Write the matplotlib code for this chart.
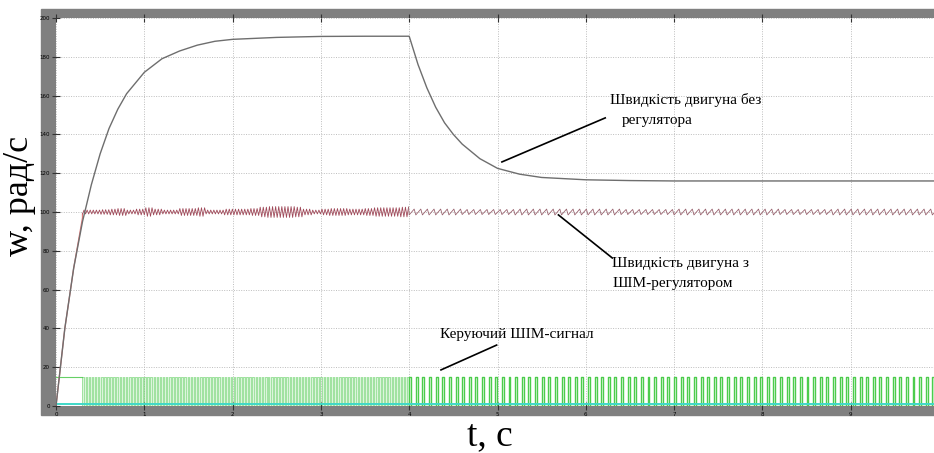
import numpy as np
import matplotlib.pyplot as plt
from matplotlib.patches import Rectangle

# ---- readings from the picture ----
# motor speed without regulator (grey curve)
t_free = [0, 0.1, 0.2, 0.3, 0.4, 0.5, 0.6, 0.7, 0.8, 1.0, 1.2, 1.4, 1.6, 1.8, 2.0,
          2.5, 3.0, 3.5, 4.0, 4.1, 4.2, 4.3, 4.4, 4.5, 4.6, 4.8, 5.0, 5.25, 5.5,
          6.0, 6.5, 7.0, 10.0]
w_free = [0, 40, 71, 95, 114, 130, 143, 153, 161, 172, 179, 183, 186, 188, 189,
          190, 190.5, 190.6, 190.6, 176, 164, 154, 146, 140, 135, 127.5, 122.5,
          119.5, 117.8, 116.6, 116.2, 116, 116]

# motor speed with PWM regulator (red curve): start-up, then ripple around 100
t_rise = [0, 0.1, 0.2, 0.3]
w_rise = [0, 40, 71, 97]
w_set = 100
ripple1_amp = [1.0, 1.0, 1.2, 1.5, 1.8, 1.0, 1.5, 2.2, 1.5, 1.0, 1.0, 1.8, 1.8,
               2.2, 1.0, 1.0, 1.5, 1.5, 1.5, 1.8, 2.5, 2.8, 2.8, 2.8, 2.5, 1.5,
               1.0, 1.5, 1.8, 1.8, 1.5, 1.5, 1.8, 2.2, 2.2, 2.2, 2.5]  # every 0.1 s from 0.3 s
ripple1_period = 0.035
ripple2_amp = [1.5, 1.3, 1.5, 1.5, 1.3, 1.5, 1.5, 1.3, 1.5, 1.5]   # every 0.6 s from 4 s
ripple2_period = 0.075

# PWM control signal (green)
pwm_high = 15
pwm1_duty = [0.55, 0.5, 0.5, 0.45, 0.5, 0.55, 0.5, 0.45, 0.5, 0.5, 0.45, 0.5,
             0.5, 0.55, 0.5, 0.45, 0.5, 0.5, 0.45, 0.5, 0.55, 0.5, 0.5, 0.55,
             0.5, 0.45, 0.5, 0.5, 0.45, 0.5, 0.5, 0.5, 0.45, 0.5, 0.55, 0.5, 0.5]
pwm2_duty = [0.3, 0.28, 0.3, 0.3, 0.28, 0.3, 0.3, 0.28, 0.3, 0.3]

x_ticks = list(range(0, 10))
y_ticks = list(range(0, 201, 20))


def ripple(t0, bin_w, amps, period, saw=False):
    ts, ws = [], []
    t = t0
    t_end = t0 + bin_w * len(amps)
    sign = -1
    while t < t_end:
        a = amps[min(int((t - t0) / bin_w), len(amps) - 1)]
        if saw:
            ts += [t, t + 0.75 * period]
            ws += [w_set - a, w_set + a]
            t += period
        else:
            ts.append(t)
            ws.append(w_set + sign * a)
            sign = -sign
            t += period / 2
    return ts, ws


def pulses(t0, bin_w, duties, period):
    ts, vs = [], []
    t = t0
    t_end = t0 + bin_w * len(duties)
    while t < t_end:
        d = duties[min(int((t - t0) / bin_w), len(duties) - 1)]
        ts += [t, t, t + d * period, t + d * period]
        vs += [0, pwm_high, pwm_high, 0]
        t += period
    return ts, vs


W, H = 934, 453
fig = plt.figure(figsize=(W / 100, H / 100), dpi=100)
fig.patch.set_facecolor('white')

# grey scope frame
fig.add_artist(Rectangle((41 / W, 1 - 415 / H), 1 - 41 / W, (415 - 9) / H,
                         transform=fig.transFigure, color='#808080', zorder=0))

ax = fig.add_axes([56 / W, 1 - 406 / H, 1 - 56 / W, (406 - 18) / H])
ax.set_facecolor('white')

# PWM signal
tp0, vp0 = [0, 0.3], [pwm_high, pwm_high]
tp1, vp1 = pulses(0.3, 0.1, pwm1_duty, ripple1_period)
tp2, vp2 = pulses(4.0, 0.6, pwm2_duty, ripple2_period)
ax.fill_between([0.3, 4.0], 0, pwm_high, color='#dcf5dc', lw=0)
ax.plot(tp0, vp0, color='#66d066', lw=0.8)
ax.plot(tp1, vp1, color='#4fc94f', lw=0.4, alpha=0.75)
ax.plot(tp2, vp2, color='#4ccc4c', lw=1.0)
ax.axhline(0.8, color='#3fd8c8', lw=1.4)

# speed with regulator
tr1, wr1 = ripple(0.3, 0.1, ripple1_amp, ripple1_period)
tr2, wr2 = ripple(4.0, 0.6, ripple2_amp, ripple2_period, saw=True)
ax.plot(t_rise + tr1[:1], w_rise + wr1[:1], color='#e07a7a', lw=0.9)
ax.plot(tr1, wr1, color='#a04a5a', lw=0.6)
ax.plot(tr1[-1:] + tr2, wr1[-1:] + wr2, color='#9a6470', lw=0.6)

# speed without regulator
ax.plot(t_free, w_free, color='#6e6e6e', lw=1.0)

ax.set_xlim(0, (934 - 56) / 88.3)
ax.set_ylim(0, 200)
ax.set_xticks(x_ticks)
ax.set_yticks(y_ticks)
ax.tick_params(axis='both', labelsize=4, direction='inout', length=6,
               width=0.8, color='#333333', pad=1.5)
ax.tick_params(axis='x', top=True)
for s in ax.spines.values():
    s.set_visible(False)
ax.grid(True, color='#bdbdbd', lw=0.7, linestyle=(0, (1, 1.5)))

serif = ['Liberation Serif', 'DejaVu Serif']
fig.text(20 / W, 1 - 196 / H, 'w, рад/с', rotation=90, ha='center', va='center',
         family=serif, fontsize=26)
fig.text(490 / W, 1 - 436 / H, 't, с', ha='center', va='center',
         family=serif, fontsize=27)

txt = dict(family=serif, fontsize=11, va='center', ha='left')
ax.text(6.27, 157.7, 'Швидкість двигуна без', **txt)
ax.text(6.41, 147.4, 'регулятора', **txt)
ax.text(6.30, 73.2, 'Швидкість двигуна з', **txt)
ax.text(6.30, 63.4, 'ШІМ-регулятором', **txt)
ax.text(4.35, 37.1, 'Керуючий ШІМ-сигнал', **txt)

ax.plot([5.05, 6.22], [125.8, 148.5], color='black', lw=1.2)
ax.plot([5.69, 6.30], [98.5, 76.3], color='black', lw=1.2)
ax.plot([4.36, 4.99], [18.6, 31.4], color='black', lw=1.2)

fig.savefig('out.png', dpi=100)
